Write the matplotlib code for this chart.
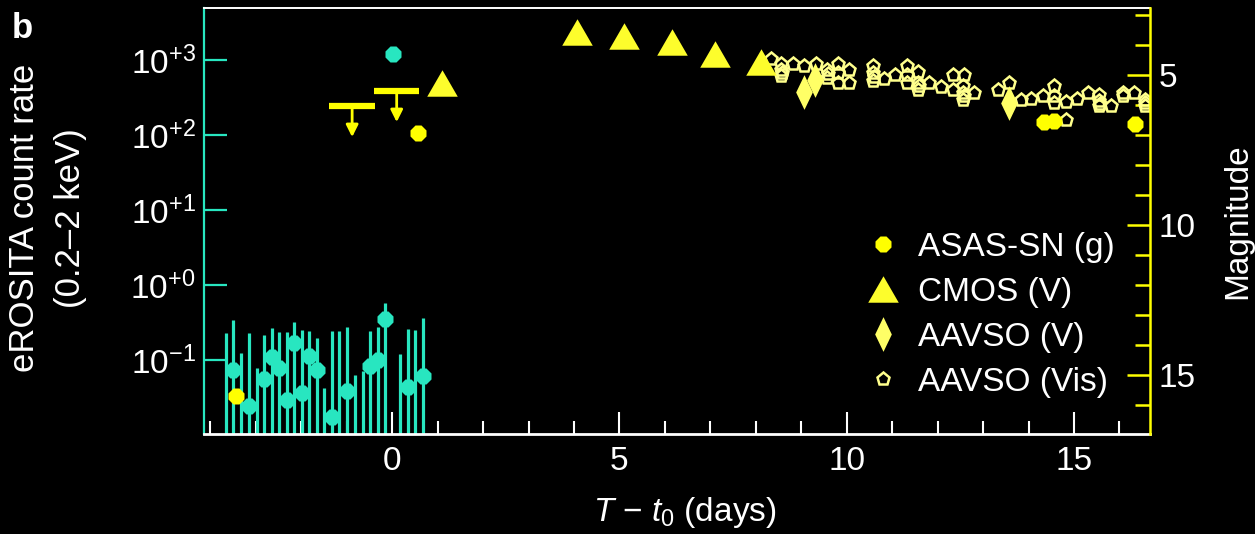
import matplotlib.pyplot as plt
import numpy as np
from matplotlib.ticker import FixedLocator, FixedFormatter, MultipleLocator, NullLocator

plt.rcParams['font.family'] = ['Liberation Sans', 'DejaVu Sans']
plt.rcParams['mathtext.fontset'] = 'custom'
plt.rcParams['mathtext.rm'] = 'Liberation Sans'
plt.rcParams['mathtext.it'] = 'Liberation Sans:italic'
plt.rcParams['mathtext.bf'] = 'Liberation Sans:bold'

# eROSITA scans (days from t0), count rates and upper ends of the error bars
xray_t = [-3.66, -3.50, -3.33, -3.15, -2.98, -2.82, -2.65, -2.48, -2.32,
          -2.15, -1.98, -1.82, -1.65, -1.49, -1.32, -1.16, -0.99, -0.82,
          -0.65, -0.49, -0.32, -0.15, 0.02, 0.18, 0.35, 0.51, 0.68]
xray_rate = [np.nan, 0.074, np.nan, 0.024, np.nan, 0.055, 0.109, 0.077, 0.029,
             0.167, 0.036, 0.113, 0.074, np.nan, 0.0175, np.nan, 0.038, np.nan,
             np.nan, 0.083, 0.100, 0.35, 1230.0, np.nan, 0.043, np.nan, 0.060]
xray_hi = [0.227, 0.341, 0.123, 0.227, 0.077, 0.215, 0.270, 0.234, 0.239,
           0.324, 0.251, 0.246, 0.194, 0.042, 0.244, 0.244, 0.273, 0.063,
           0.070, 0.244, 0.273, 0.57, np.nan, 0.119, 0.262, 0.251, 0.36]

# optical photometry (magnitudes)
asassn_t = [-3.44, 0.57, 14.35, 14.57, 16.33]
asassn_mag = [15.72, 6.91, 6.57, 6.53, 6.61]
asassn_lim_t = [-0.88, 0.10]
asassn_lim_mag = [6.01, 5.51]

cmos_t = [1.10, 4.07, 5.11, 6.15, 7.11, 8.11]
cmos_mag = [5.26, 3.56, 3.67, 3.87, 4.27, 4.56]

aavso_v_t = [9.06, 9.30, 13.56]
aavso_v_mag = [5.55, 5.17, 5.93]

aavso_vis_t = [8.34, 8.56, 8.56, 8.56, 8.58, 8.82, 9.06, 9.32, 9.56, 9.56, 9.58,
               9.81, 9.81, 9.81, 10.05, 10.05, 10.57, 10.57, 10.57, 10.59, 10.82,
               11.06, 11.32, 11.32, 11.32, 11.56, 11.56, 11.56, 11.58, 11.81,
               12.07, 12.33, 12.33, 12.57, 12.55, 12.55, 12.55, 12.57, 12.80,
               13.32, 13.57, 13.83, 14.05, 14.31, 14.57, 14.57, 14.57, 14.82,
               14.82, 15.07, 15.30, 15.56, 15.56, 15.56, 15.58, 15.81, 16.07,
               16.07, 16.31, 16.55, 16.55, 16.57]
aavso_vis_mag = [4.45, 4.61, 4.81, 5.03, 4.92, 4.61, 4.70, 4.61, 4.81, 5.09, 4.95,
                 4.61, 4.92, 5.25, 4.81, 5.25, 4.70, 4.92, 5.20, 5.05, 5.12,
                 4.98, 4.68, 4.98, 5.25, 4.90, 5.25, 5.48, 5.36, 5.25,
                 5.39, 4.98, 5.48, 4.98, 5.37, 5.59, 5.81, 5.70, 5.59,
                 5.48, 5.25, 5.81, 5.79, 5.70, 5.37, 5.70, 5.92, 5.90,
                 6.50, 5.79, 5.59, 5.64, 5.87, 6.03, 5.95, 6.03, 5.59,
                 5.70, 5.59, 5.81, 6.03, 5.92]

TEAL = '#28e6c0'
YELLOW = '#ffff00'
CMOS_YELLOW = '#fdfd2c'
AAVSO_V = '#ffff66'
AAVSO_VIS = '#ffff8c'


def mag_from_rate(r):
    return 12.0 - 2.5 * np.log10(r)


rate_lo, rate_hi = 10 ** -1.99, 10 ** 3.70

fig = plt.figure(figsize=(12.55, 5.34), dpi=100, facecolor='black')
ax = fig.add_axes([0.1625, 0.1873, 0.7538, 0.7977])
ax.set_facecolor('black')
ax.set_yscale('log')
ax.set_xlim(-4.14, 16.67)
ax.set_ylim(rate_lo, rate_hi)

# X-ray light curve
ax.vlines(xray_t, rate_lo, xray_hi, color=TEAL, lw=2.3, zorder=2)
ax.plot(xray_t, xray_rate, ls='none', marker='8', ms=12.5, color=TEAL,
        mec='none', zorder=3)

# optical on a magnitude axis tied to the count-rate axis
ax2 = ax.twinx()
ax2.set_ylim(mag_from_rate(rate_lo), mag_from_rate(rate_hi))

tri = [(-1, -0.866), (1, -0.866), (0, 0.866)]
dia = [(0, 1), (0.48, 0), (0, -1), (-0.48, 0)]

h_vis, = ax2.plot(aavso_vis_t, aavso_vis_mag, ls='none', marker='p', ms=9.5,
                  mfc='none', mec=AAVSO_VIS, mew=1.8, label='AAVSO (Vis)', zorder=2)
h_cmos, = ax2.plot(cmos_t, cmos_mag, ls='none', marker=tri, ms=22,
                   color=CMOS_YELLOW, mec='none', label='CMOS (V)', zorder=3)
h_v, = ax2.plot(aavso_v_t, aavso_v_mag, ls='none', marker=dia, ms=25,
                color=AAVSO_V, mec='none', label='AAVSO (V)', zorder=3)
h_asassn, = ax2.plot(asassn_t, asassn_mag, ls='none', marker='8', ms=13,
                     color=YELLOW, mec='none', label='ASAS-SN (g)', zorder=4)

# ASAS-SN upper limits
ax2.hlines(asassn_lim_mag, np.array(asassn_lim_t) - 0.5, np.array(asassn_lim_t) + 0.5,
           color=YELLOW, lw=4.5, zorder=4)
for t, m in zip(asassn_lim_t, asassn_lim_mag):
    ax2.annotate('', xy=(t, m + 1.05), xytext=(t, m),
                 arrowprops=dict(arrowstyle='-|>', color=YELLOW, lw=2,
                                 mutation_scale=18, shrinkA=0, shrinkB=0))

# axes styling
for s in ['left', 'bottom', 'top', 'right']:
    ax2.spines[s].set_visible(s == 'right')
ax.spines['right'].set_visible(False)
ax.spines['left'].set_color(TEAL)
ax.spines['left'].set_linewidth(1.6)
ax.spines['bottom'].set_color('white')
ax.spines['bottom'].set_linewidth(2.0)
ax.spines['top'].set_color('white')
ax.spines['top'].set_linewidth(1.4)
ax2.spines['right'].set_color(YELLOW)
ax2.spines['right'].set_linewidth(1.8)

ax.xaxis.set_major_locator(MultipleLocator(5))
ax.xaxis.set_minor_locator(MultipleLocator(1))
ax.tick_params(axis='x', which='major', direction='in', length=16, width=1.5,
               color='white', labelcolor='white', labelsize=24, pad=9)
ax.tick_params(axis='x', which='minor', direction='in', length=9.5, width=1.5,
               color='white')

yt = [0.1, 1, 10, 100, 1000]
ax.yaxis.set_major_locator(FixedLocator(yt))
ax.yaxis.set_major_formatter(FixedFormatter(
    [r'$\mathregular{10^{-1}}$', r'$\mathregular{10^{+0}}$', r'$\mathregular{10^{+1}}$',
     r'$\mathregular{10^{+2}}$', r'$\mathregular{10^{+3}}$']))
ax.yaxis.set_minor_locator(NullLocator())
ax.tick_params(axis='y', which='major', direction='in', length=16.5, width=1.6,
               color=TEAL, labelcolor='white', labelsize=24, pad=6)

ax2.yaxis.set_major_locator(FixedLocator([5, 10, 15]))
ax2.yaxis.set_minor_locator(MultipleLocator(1))
ax2.tick_params(axis='y', which='major', direction='in', length=16.5, width=1.8,
                color=YELLOW, labelcolor='white', labelsize=24, pad=6)
ax2.tick_params(axis='y', which='minor', direction='in', length=10.5, width=1.8,
                color=YELLOW)

fig.text(0.5 * (0.1625 + 0.9163) + 0.006, 0.041,
         r'$T$ $-$ $t_{\mathregular{0}}$ (days)', color='white', fontsize=24,
         ha='center', va='center')
fig.text(0.0375, 0.592, 'eROSITA count rate\n(0.2–2 keV)', color='white',
         fontsize=25, rotation=90, ha='center', va='center', linespacing=1.5)
fig.text(0.986, 0.585, 'Magnitude', color='white', fontsize=24, rotation=90,
         ha='center', va='center')
fig.text(0.009, 0.978, 'b', color='white', fontsize=25, weight='bold',
         ha='left', va='top')

leg = ax2.legend(handles=[h_asassn, h_cmos, h_v, h_vis], loc='upper left',
                 bbox_to_anchor=(866 / 1255, 1 - 232 / 534),
                 bbox_transform=fig.transFigure, frameon=False, fontsize=24,
                 handlelength=1.0, handletextpad=0.55, labelspacing=0.42,
                 borderpad=0, borderaxespad=0)
for txt in leg.get_texts():
    txt.set_color('white')

fig.savefig('out.png', dpi=100, facecolor='black')
